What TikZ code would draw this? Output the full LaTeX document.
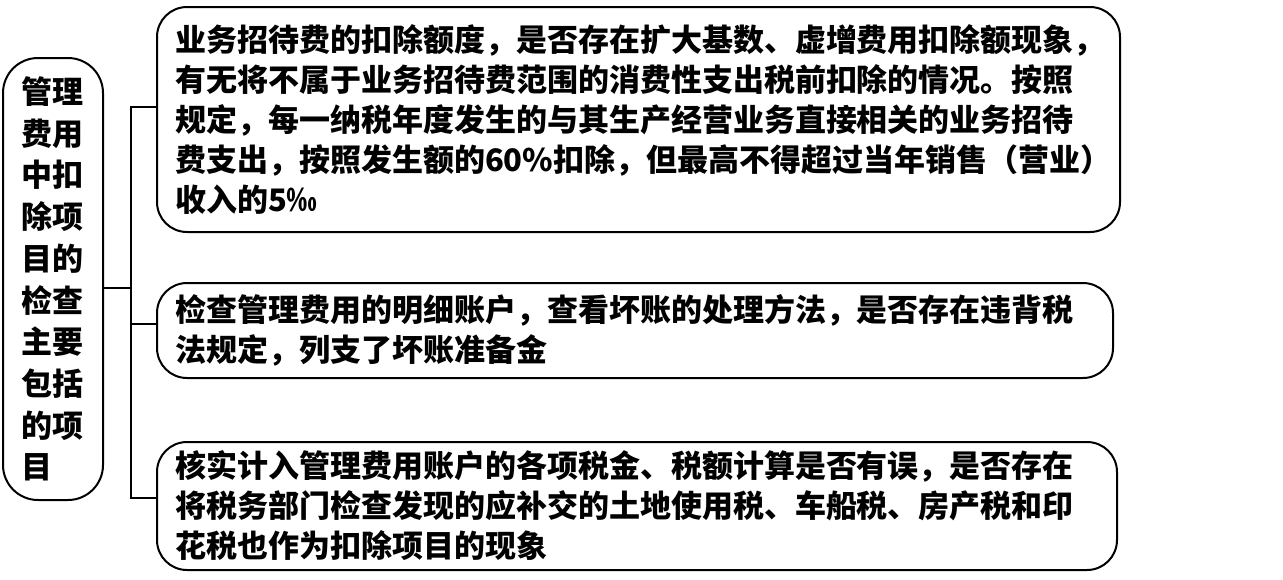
\documentclass[tikz,border=0pt]{standalone}
\usepackage{fontspec}
\setmainfont{Noto Sans CJK SC}
\tikzset{
  box/.style={draw,line width=2pt,rounded corners=30pt,align=left,inner xsep=18pt,
    font=\bfseries\fontsize{31}{40}\selectfont},
  link/.style={line width=2pt}
}
\begin{document}
\begin{tikzpicture}[x=1pt,y=-1pt]
\useasboundingbox (0,0) rectangle (1283,579);
% left title box
\node[box,rounded corners=35pt,text width=64pt,minimum height=442pt,
  font=\bfseries\fontsize{31}{41.7}\selectfont] (title) at (53,279)
  {管理\\费用\\中扣\\除项\\目的\\检查\\主要\\包括\\的项\\目};
% item boxes
\node[box,text width=927pt,minimum height=225pt] (item1) at (638.5,119.5)
  {业务招待费的扣除额度，是否存在扩大基数、虚增费用扣除额现象，\\
   有无将不属于业务招待费范围的消费性支出税前扣除的情况。按照\\
   规定，每一纳税年度发生的与其生产经营业务直接相关的业务招待\\
   费支出，按照发生额的60\%扣除，但最高不得超过当年销售（营业）\\
   收入的5‰};
\node[box,text width=920pt,minimum height=95pt] (item2) at (635,330.5)
  {检查管理费用的明细账户，查看坏账的处理方法，是否存在违背税\\
   法规定，列支了坏账准备金};
\node[box,text width=924pt,minimum height=128pt] (item3) at (637,506)
  {核实计入管理费用账户的各项税金、税额计算是否有误，是否存在\\
   将税务部门检查发现的应补交的土地使用税、车船税、房产税和印\\
   花税也作为扣除项目的现象};
% connectors
\draw[link] ([yshift=-9pt]title.east) -- ++(27,0) coordinate (hub);
\draw[link] ([yshift=13pt]item1.west) -| (hub);
\draw[link] ([yshift=7pt]item2.west) -| (hub);
\draw[link] ([yshift=8pt]item3.west) -| (hub);
\end{tikzpicture}
\end{document}
